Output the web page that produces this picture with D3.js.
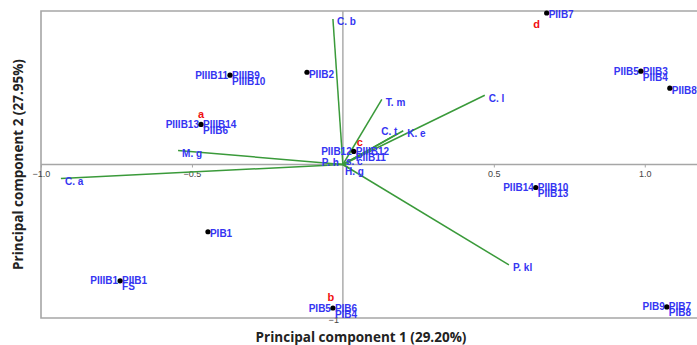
<!DOCTYPE html>
<html>
<head>
<meta charset="utf-8">
<script src="https://cdn.jsdelivr.net/npm/d3@7"></script>
<style>
  body { margin: 0; background: #fff; }
  svg { display: block; }
</style>
</head>
<body>
<div class="biplot"></div>
<script>
// loading vectors (variables)
const vecNames = ['C. b', 'T. m', 'C. l', 'C. t', 'K. e', 'M. g', 'C. a', 'P. kl', 'P. h', 's. c', 'H. g'];
const vecX = [-0.033, 0.129, 0.47, 0.18, 0.2, -0.546, -0.934, 0.55, -0.03, 0.02, 0.03];
const vecY = [0.948, 0.425, 0.451, 0.2, 0.22, 0.092, -0.092, -0.654, 0.005, 0.005, -0.035];

// sample scores, one dot per cluster of overlapping samples
const sampleX = [0.675, 0.987, 1.083, -0.374, -0.119, -0.47, 0.036, -0.447, -0.738, -0.033, 0.639, 1.073];
const sampleY = [0.987, 0.608, 0.497, 0.582, 0.601, 0.261, 0.085, -0.438, -0.758, -0.935, -0.15, -0.928];
const labelLeft = ['', 'PIIB5', '', 'PIIIB11', '', 'PIIIB13', 'PIIB12', '', 'PIIIB1', 'PIB5', 'PIIB14', 'PIB9'];
const labelRight = ['PIIB7', 'PIIB3', 'PIIB8', 'PIIIB9', 'PIIB2', 'PIIIB14', 'PIIIB12', 'PIB1', 'PIIB1', 'PIB6', 'PIIB10', 'PIB7'];
const labelBelow = ['', 'PIIB4', '', 'PIIIB10', '', 'PIIB6', 'PIIB11', '', 'FS', 'PIB4', 'PIIB13', 'PIB8'];

// group letters and the cluster they sit next to
const groupLetters = ['a', 'b', 'c', 'd'];
const groupCluster = [5, 9, 6, 0];

const xTicks = [-1.0, -0.5, 0.5, 1.0];
const yTicks = [-1];

const xTitle = 'Principal component 1 (29.20%)';
const yTitle = 'Principal component 2 (27.95%)';

const width = 697;
const height = 345;
const margin = { top: 11, right: 0, bottom: 27, left: 41 };

const svg = d3
  .select('.biplot')
  .append('svg')
  .attr('width', width)
  .attr('height', height);

const x = d3.scaleLinear().domain([-1, 1.173]).range([margin.left, width - margin.right]);
const y = d3.scaleLinear().domain([-1, 1]).range([height - margin.bottom, margin.top]);

const grey = '#a6a6a6';
const blue = '#3535f2';
const green = '#3a9a3a';

// frame (right side runs off the picture)
svg
  .append('path')
  .attr('d', `M${width + 2},${y(1)} H${x(-1)} V${y(-1)} H${width + 2}`)
  .attr('fill', 'none')
  .attr('stroke', grey)
  .attr('stroke-width', 1.6);

// zero lines
svg
  .append('line')
  .attr('x1', x(-1)).attr('x2', width)
  .attr('y1', y(0)).attr('y2', y(0))
  .attr('stroke', grey).attr('stroke-width', 1.4);
svg
  .append('line')
  .attr('x1', x(0)).attr('x2', x(0))
  .attr('y1', y(1)).attr('y2', y(-1))
  .attr('stroke', grey).attr('stroke-width', 1.4);

const xAxis = svg
  .append('g')
  .attr('transform', 'translate(0,' + y(0) + ')')
  .call(d3.axisBottom(x).tickValues(xTicks).tickSize(3).tickPadding(3).tickFormat(d3.format('.1f')));
xAxis.select('.domain').remove();
xAxis.selectAll('line').attr('stroke', grey);
xAxis.selectAll('text').attr('fill', '#444').style('font', '9px "Liberation Sans", Arial, sans-serif');

const yAxis = svg
  .append('g')
  .attr('transform', 'translate(' + x(0) + ',2)')
  .call(d3.axisLeft(y).tickValues(yTicks).tickSize(0).tickPadding(4).tickFormat(d3.format('d')));
yAxis.select('.domain').remove();
yAxis.selectAll('text').attr('fill', '#444').style('font', '9px "Liberation Sans", Arial, sans-serif');

// loading vectors
const vectors = vecNames.map((name, i) => ({ name, x: vecX[i], y: vecY[i] }));
svg
  .selectAll('.vec')
  .data(vectors)
  .join('line')
  .attr('class', 'vec')
  .attr('x1', x(0))
  .attr('y1', y(0))
  .attr('x2', (d) => x(d.x))
  .attr('y2', (d) => y(d.y))
  .attr('stroke', green)
  .attr('stroke-width', 1.5);

const labelFont = 'bold 10px "Liberation Sans", Arial, sans-serif';

// offsets for labels that do not sit at the vector tip
const vecOffset = {
  'C. t': [-16, -2],
  'P. h': [-12, -1],
  's. c': [-3, -2],
  'H. g': [-7, 2],
};
svg
  .selectAll('.vecLabel')
  .data(vectors)
  .join('text')
  .attr('class', 'vecLabel')
  .attr('x', (d) => x(d.x) + (vecOffset[d.name] ? vecOffset[d.name][0] : 4))
  .attr('y', (d) => y(d.y) + (vecOffset[d.name] ? vecOffset[d.name][1] : 3))
  .attr('dy', '0.35em')
  .attr('fill', blue)
  .style('font', labelFont)
  .text((d) => d.name);

// samples
const samples = sampleX.map((v, i) => ({
  x: v,
  y: sampleY[i],
  left: labelLeft[i],
  right: labelRight[i],
  below: labelBelow[i],
}));

const pts = svg.selectAll('.pt').data(samples).join('g').attr('class', 'pt');
pts
  .append('text')
  .attr('x', (d) => x(d.x) - 2)
  .attr('y', (d) => y(d.y))
  .attr('dy', '0.35em')
  .attr('text-anchor', 'end')
  .attr('fill', blue)
  .style('font', labelFont)
  .text((d) => d.left);
pts
  .append('text')
  .attr('x', (d) => x(d.x) + 2)
  .attr('y', (d) => y(d.y) + (d.left ? 0 : 2))
  .attr('dy', '0.35em')
  .attr('fill', blue)
  .style('font', labelFont)
  .text((d) => d.right);
pts
  .append('text')
  .attr('x', (d) => x(d.x) + 2)
  .attr('y', (d) => y(d.y) + 6)
  .attr('dy', '0.35em')
  .attr('fill', blue)
  .style('font', labelFont)
  .text((d) => d.below);
pts
  .append('circle')
  .attr('cx', (d) => x(d.x))
  .attr('cy', (d) => y(d.y))
  .attr('r', 2.6)
  .attr('fill', '#000');

// group letters
const letterOffset = { a: [0, -10], b: [-2, -11], c: [6, -9], d: [-10, 11] };
svg
  .selectAll('.grp')
  .data(groupLetters)
  .join('text')
  .attr('class', 'grp')
  .attr('x', (d, i) => x(sampleX[groupCluster[i]]) + letterOffset[d][0])
  .attr('y', (d, i) => y(sampleY[groupCluster[i]]) + letterOffset[d][1])
  .attr('dy', '0.35em')
  .attr('text-anchor', 'middle')
  .attr('fill', '#f01010')
  .style('font', 'bold 11px "Liberation Sans", Arial, sans-serif')
  .text((d) => d);

// axis titles
svg
  .append('text')
  .attr('x', 361)
  .attr('y', 337)
  .attr('dy', '0.35em')
  .attr('text-anchor', 'middle')
  .attr('fill', '#222')
  .style('font', 'bold 13.5px "Open Sans", sans-serif')
  .text(xTitle);
svg
  .append('text')
  .attr('transform', 'translate(18,' + y(0) + ') rotate(-90)')
  .attr('dy', '0.35em')
  .attr('text-anchor', 'middle')
  .attr('fill', '#222')
  .style('font', 'bold 13.5px "Open Sans", sans-serif')
  .text(yTitle);
</script>
</body>
</html>
